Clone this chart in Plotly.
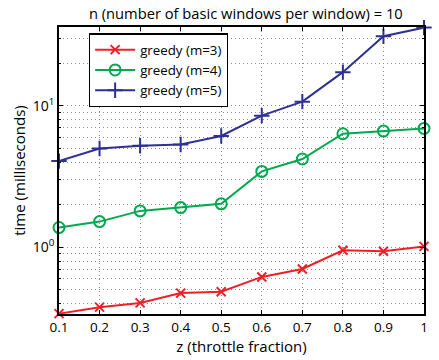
import plotly.graph_objects as go

z = [0.1, 0.2, 0.3, 0.4, 0.5, 0.6, 0.7, 0.8, 0.9, 1.0]
m3 = [0.34, 0.378, 0.405, 0.475, 0.486, 0.618, 0.703, 0.953, 0.938, 1.016]
m4 = [1.38, 1.52, 1.81, 1.91, 2.03, 3.44, 4.21, 6.35, 6.63, 6.92]
m5 = [4.07, 4.99, 5.22, 5.33, 6.12, 8.52, 10.7, 17.3, 31.0, 35.7]
names = ["greedy (m=3)", "greedy (m=4)", "greedy (m=5)"]
xticks = [0.1, 0.2, 0.3, 0.4, 0.5, 0.6, 0.7, 0.8, 0.9, 1]
xticktext = ["0.1", "0.2", "0.3", "0.4", "0.5", "0.6", "0.7", "0.8", "0.9", "1"]
yticks = [1, 10]
yticktext = ["10<sup>0</sup>", "10<sup>1</sup>"]
yminor = [0.4, 0.5, 0.6, 0.7, 0.8, 0.9, 2, 3, 4, 5, 6, 7, 8, 9, 20, 30]

FONT = "Open Sans"
GRID = dict(gridcolor="#8a8a8a", griddash="1px,3px", gridwidth=1)
fig = go.Figure()
styles = [
    (m3, "#ee2027", "x-thin-open", 9),
    (m4, "#00a84f", "circle-open", 11),
    (m5, "#2e3192", "cross-thin-open", 11),
]
for (ys, col, sym, sz), nm in zip(styles, names):
    fig.add_trace(go.Scatter(
        x=z, y=ys, name=nm, mode="lines+markers",
        line=dict(color=col, width=2),
        marker=dict(symbol=sym, size=sz, color=col, line=dict(color=col, width=2)),
        cliponaxis=False,
    ))

fig.update_layout(
    width=439, height=360,
    margin=dict(l=59, r=11, t=27, b=42),
    paper_bgcolor="white", plot_bgcolor="white",
    font=dict(family=FONT, size=13, color="black"),
    title=dict(text="n (number of basic windows per window) = 10", x=0.56, xanchor="center",
               y=0.962, yanchor="middle", font=dict(size=14.7, family=FONT, color="black")),
    showlegend=True,
    legend=dict(x=0.082, y=0.978, xanchor="left", yanchor="top",
                bgcolor="white", bordercolor="black", borderwidth=1.2,
                font=dict(size=13.3, family=FONT), tracegroupgap=0,
                itemwidth=40),
)
fig.update_xaxes(
    range=[0.1, 1.0], tickvals=xticks, ticktext=xticktext,
    showgrid=True, **GRID,
    showline=True, linecolor="black", linewidth=1.5, mirror="ticks",
    ticks="inside", ticklen=4, tickcolor="black", zeroline=False,
    tickfont=dict(size=13.5),
    title=dict(text="z (throttle fraction)", font=dict(size=15), standoff=3),
)
fig.update_yaxes(
    type="log", range=[-0.471, 1.557], tickvals=yticks, ticktext=yticktext,
    showgrid=True, **GRID,
    minor=dict(tickvals=yminor, showgrid=True, ticks="inside", ticklen=2,
               tickcolor="black", **GRID),
    showline=True, linecolor="black", linewidth=1.5, mirror="ticks",
    ticks="inside", ticklen=4, tickcolor="black", zeroline=False,
    tickfont=dict(size=14),
    title=dict(text="time (milliseconds)", font=dict(size=15), standoff=4),
)
fig.write_html("out.html")
